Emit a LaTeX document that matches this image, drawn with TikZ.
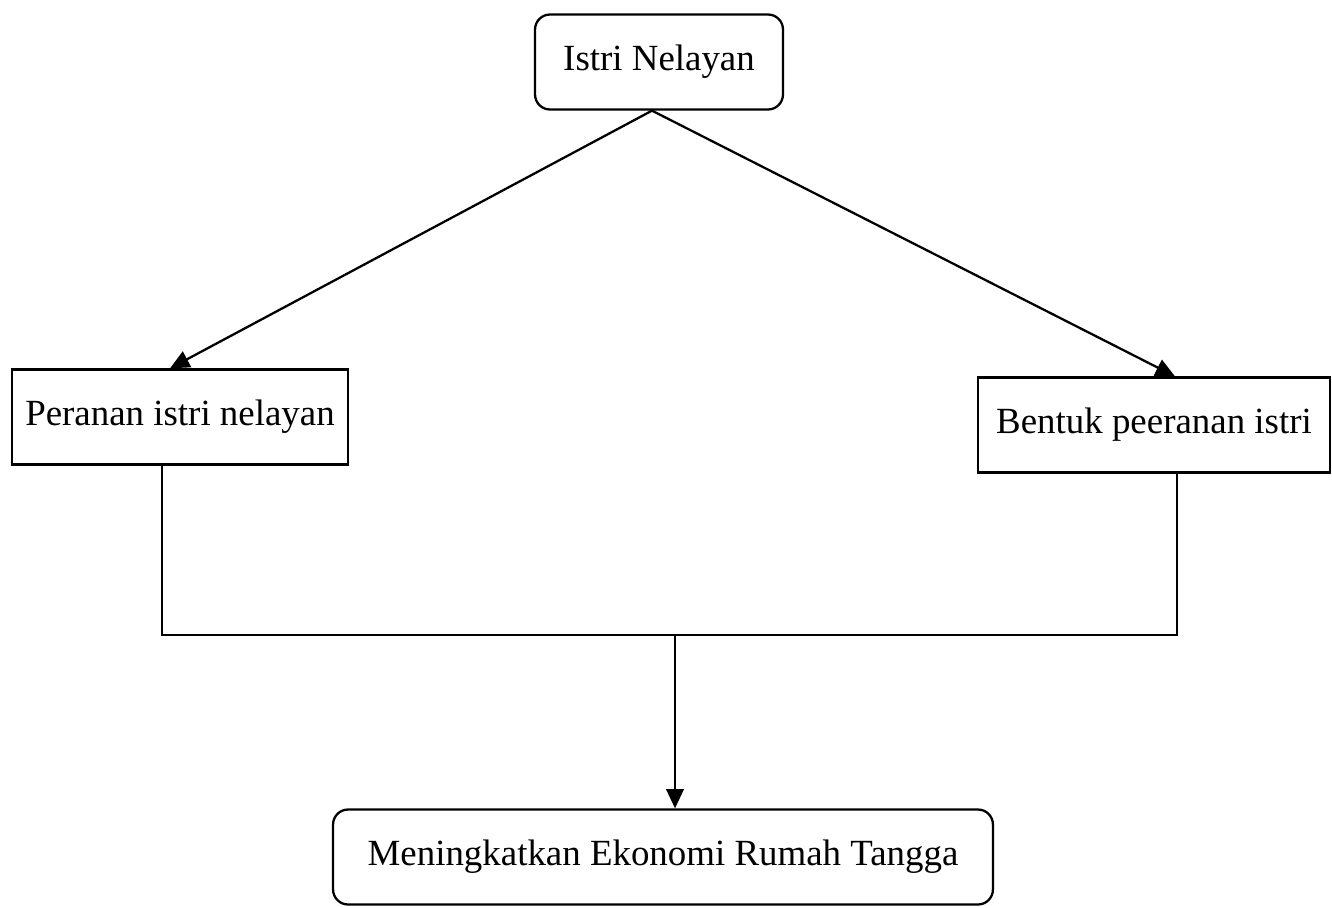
\documentclass[tikz,border=0pt]{standalone}
\usepackage{fontspec}
\setmainfont{Liberation Serif}
\usetikzlibrary{arrows.meta}
\begin{document}
\begin{tikzpicture}[x=0.02cm, y=-0.02cm, line width=1.3pt,
    every node/.style={font=\fontsize{21}{25}\selectfont},
    box/.style={draw, minimum height=1.9cm, inner sep=2pt},
    roundbox/.style={box, rounded corners=0.3cm},
    link/.style={-{Triangle[length=11pt, width=10pt]}}]
    \useasboundingbox (0,0) rectangle (1332,907);
    \node[roundbox, minimum width=4.96cm] (istri) at (659,62) {Istri Nelayan};
    \node[box, minimum width=6.72cm] (peranan) at (180,417) {Peranan istri nelayan};
    \node[box, minimum width=7.04cm] (bentuk) at (1154,425) {Bentuk peeranan istri};
    \node[roundbox, minimum width=13.2cm] (ekonomi) at (663,857) {Meningkatkan Ekonomi Rumah Tangga};
    \coordinate (join) at (675,635);
    \draw[link] ([xshift=-0.14cm]istri.south) -- ([xshift=-0.2cm]peranan.north);
    \draw[link] ([xshift=-0.14cm]istri.south) -- ([xshift=0.42cm]bentuk.north);
    \draw ([xshift=-0.36cm]peranan.south) |- (join) -| ([xshift=0.46cm]bentuk.south);
    \draw[link] (join) -- (join |- ekonomi.north);
\end{tikzpicture}
\end{document}
